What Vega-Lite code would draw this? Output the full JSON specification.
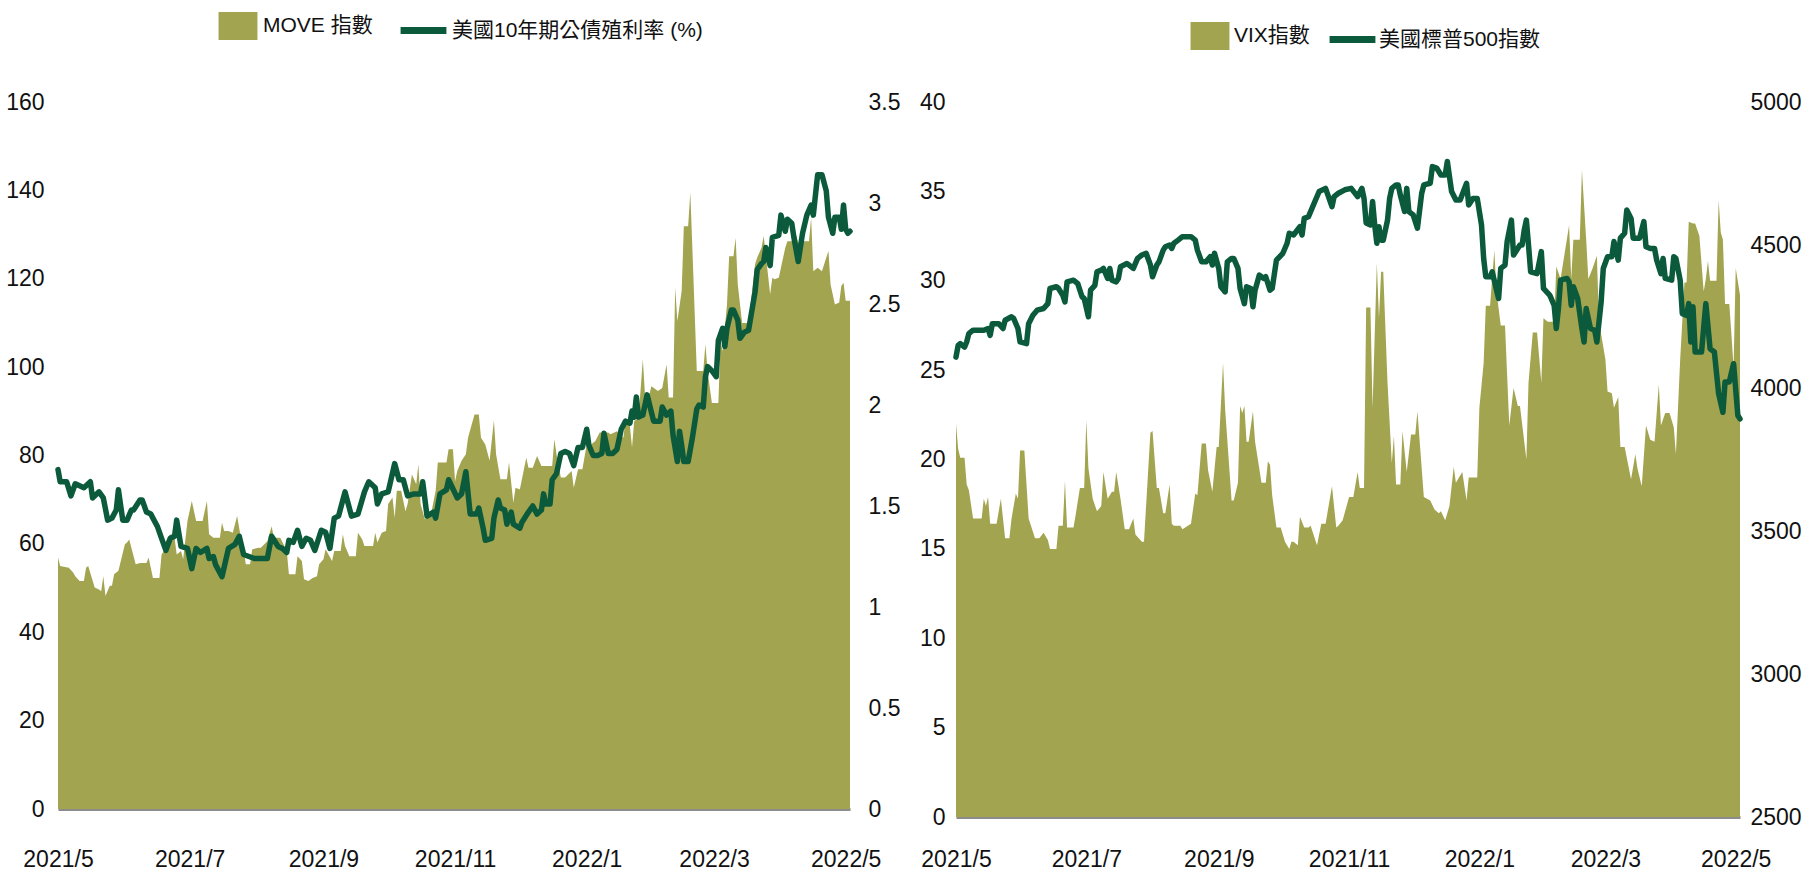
{
  "$schema": "https://vega.github.io/schema/vega-lite/v6.json",
  "background": "white",
  "padding": {"left": 5, "top": 4, "right": 0, "bottom": 0},
  "config": {
    "view": {"stroke": null},
    "font": "Liberation Sans, Noto Sans CJK TC, sans-serif",
    "axis": {"grid": false, "ticks": false, "domain": false, "title": null, "labelFont": "Liberation Sans, sans-serif", "labelFontSize": 23, "labelColor": "#111111"},
    "legend": {"title": null, "orient": "none", "padding": 0, "labelLimit": 0, "labelFont": "Liberation Sans, Noto Sans CJK TC, sans-serif", "labelFontSize": 21, "labelColor": "#111111"}
  },
  "spacing": 19,
  "resolve": {"scale": {"fill": "independent", "stroke": "independent"}, "legend": {"fill": "independent", "stroke": "independent"}},
  "datasets": {
    "move": [
      {"date": "2021/5/1", "move": 56.9}, {"date": "2021/5/2", "move": 55.0}, {"date": "2021/5/6", "move": 54.6}, {"date": "2021/5/8", "move": 53.5}, {"date": "2021/5/9", "move": 52.7}, {"date": "2021/5/11", "move": 51.6}, {"date": "2021/5/13", "move": 51.6}, {"date": "2021/5/14", "move": 54.6}, {"date": "2021/5/15", "move": 55.0}, {"date": "2021/5/18", "move": 50.1}, {"date": "2021/5/20", "move": 49.7}, {"date": "2021/5/21", "move": 49.3}, {"date": "2021/5/22", "move": 52.7}, {"date": "2021/5/23", "move": 48.2}, {"date": "2021/5/25", "move": 50.5}, {"date": "2021/5/26", "move": 50.5}, {"date": "2021/5/27", "move": 53.1}, {"date": "2021/5/29", "move": 53.9},
      {"date": "2021/6/1", "move": 59.9}, {"date": "2021/6/2", "move": 60.3}, {"date": "2021/6/3", "move": 61.0}, {"date": "2021/6/6", "move": 55.4}, {"date": "2021/6/8", "move": 55.7}, {"date": "2021/6/11", "move": 55.7}, {"date": "2021/6/12", "move": 56.9}, {"date": "2021/6/14", "move": 52.3}, {"date": "2021/6/17", "move": 52.3}, {"date": "2021/6/18", "move": 57.6}, {"date": "2021/6/19", "move": 58.4}, {"date": "2021/6/20", "move": 60.6}, {"date": "2021/6/22", "move": 62.2}, {"date": "2021/6/24", "move": 61.4}, {"date": "2021/6/25", "move": 57.6}, {"date": "2021/6/27", "move": 58.4}, {"date": "2021/6/28", "move": 56.5}, {"date": "2021/6/30", "move": 65.2},
      {"date": "2021/7/2", "move": 69.7}, {"date": "2021/7/4", "move": 65.2}, {"date": "2021/7/7", "move": 65.2}, {"date": "2021/7/9", "move": 69.7}, {"date": "2021/7/10", "move": 62.2}, {"date": "2021/7/12", "move": 61.4}, {"date": "2021/7/15", "move": 61.4}, {"date": "2021/7/16", "move": 64.8}, {"date": "2021/7/17", "move": 62.9}, {"date": "2021/7/19", "move": 62.9}, {"date": "2021/7/21", "move": 62.5}, {"date": "2021/7/23", "move": 66.3}, {"date": "2021/7/25", "move": 60.6}, {"date": "2021/7/26", "move": 59.1}, {"date": "2021/7/27", "move": 55.4}, {"date": "2021/7/29", "move": 55.4}, {"date": "2021/7/30", "move": 58.8},
      {"date": "2021/8/2", "move": 59.1}, {"date": "2021/8/3", "move": 59.1}, {"date": "2021/8/6", "move": 60.6}, {"date": "2021/8/8", "move": 64.0}, {"date": "2021/8/9", "move": 61.4}, {"date": "2021/8/12", "move": 61.4}, {"date": "2021/8/15", "move": 58.4}, {"date": "2021/8/16", "move": 53.1}, {"date": "2021/8/19", "move": 53.1}, {"date": "2021/8/20", "move": 57.2}, {"date": "2021/8/22", "move": 56.1}, {"date": "2021/8/23", "move": 52.0}, {"date": "2021/8/25", "move": 51.6}, {"date": "2021/8/27", "move": 52.3}, {"date": "2021/8/29", "move": 52.7}, {"date": "2021/8/30", "move": 55.4},
      {"date": "2021/9/1", "move": 56.5}, {"date": "2021/9/2", "move": 58.8}, {"date": "2021/9/5", "move": 56.1}, {"date": "2021/9/6", "move": 58.4}, {"date": "2021/9/9", "move": 58.4}, {"date": "2021/9/10", "move": 62.2}, {"date": "2021/9/11", "move": 59.5}, {"date": "2021/9/13", "move": 57.2}, {"date": "2021/9/16", "move": 57.2}, {"date": "2021/9/17", "move": 62.5}, {"date": "2021/9/19", "move": 61.0}, {"date": "2021/9/20", "move": 59.5}, {"date": "2021/9/24", "move": 59.5}, {"date": "2021/9/25", "move": 62.5}, {"date": "2021/9/26", "move": 60.3}, {"date": "2021/9/28", "move": 62.5}, {"date": "2021/9/30", "move": 62.9},
      {"date": "2021/10/1", "move": 69.0}, {"date": "2021/10/3", "move": 70.5}, {"date": "2021/10/4", "move": 65.9}, {"date": "2021/10/5", "move": 72.0}, {"date": "2021/10/7", "move": 72.0}, {"date": "2021/10/9", "move": 67.4}, {"date": "2021/10/10", "move": 69.0}, {"date": "2021/10/12", "move": 75.7}, {"date": "2021/10/14", "move": 73.5}, {"date": "2021/10/15", "move": 78.0}, {"date": "2021/10/16", "move": 69.0}, {"date": "2021/10/18", "move": 65.6}, {"date": "2021/10/21", "move": 67.1}, {"date": "2021/10/23", "move": 72.0}, {"date": "2021/10/24", "move": 78.4}, {"date": "2021/10/28", "move": 78.4}, {"date": "2021/10/29", "move": 81.4}, {"date": "2021/10/31", "move": 81.4},
      {"date": "2021/11/1", "move": 74.2}, {"date": "2021/11/2", "move": 76.5}, {"date": "2021/11/4", "move": 78.8}, {"date": "2021/11/6", "move": 80.3}, {"date": "2021/11/7", "move": 84.0}, {"date": "2021/11/10", "move": 89.3}, {"date": "2021/11/12", "move": 89.3}, {"date": "2021/11/13", "move": 84.0}, {"date": "2021/11/15", "move": 82.5}, {"date": "2021/11/17", "move": 78.8}, {"date": "2021/11/19", "move": 88.0}, {"date": "2021/11/20", "move": 80.3}, {"date": "2021/11/22", "move": 74.6}, {"date": "2021/11/25", "move": 74.6}, {"date": "2021/11/26", "move": 78.4}, {"date": "2021/11/28", "move": 69.3}, {"date": "2021/11/29", "move": 72.7},
      {"date": "2021/12/1", "move": 72.3}, {"date": "2021/12/4", "move": 79.5}, {"date": "2021/12/5", "move": 77.2}, {"date": "2021/12/7", "move": 77.2}, {"date": "2021/12/9", "move": 79.9}, {"date": "2021/12/11", "move": 77.6}, {"date": "2021/12/14", "move": 77.6}, {"date": "2021/12/16", "move": 77.6}, {"date": "2021/12/17", "move": 83.7}, {"date": "2021/12/18", "move": 80.3}, {"date": "2021/12/20", "move": 75.0}, {"date": "2021/12/22", "move": 75.0}, {"date": "2021/12/25", "move": 76.5}, {"date": "2021/12/26", "move": 72.7}, {"date": "2021/12/28", "move": 76.9}, {"date": "2021/12/30", "move": 76.9},
      {"date": "2022/1/1", "move": 82.5}, {"date": "2022/1/3", "move": 82.5}, {"date": "2022/1/5", "move": 83.3}, {"date": "2022/1/7", "move": 85.2}, {"date": "2022/1/11", "move": 85.2}, {"date": "2022/1/12", "move": 84.8}, {"date": "2022/1/15", "move": 85.5}, {"date": "2022/1/18", "move": 84.0}, {"date": "2022/1/19", "move": 88.5}, {"date": "2022/1/21", "move": 86.7}, {"date": "2022/1/22", "move": 81.8}, {"date": "2022/1/23", "move": 87.8}, {"date": "2022/1/25", "move": 88.5}, {"date": "2022/1/27", "move": 101.8}, {"date": "2022/1/28", "move": 93.8}, {"date": "2022/1/30", "move": 93.8}, {"date": "2022/1/31", "move": 95.7},
      {"date": "2022/2/3", "move": 94.6}, {"date": "2022/2/5", "move": 95.3}, {"date": "2022/2/7", "move": 100.6}, {"date": "2022/2/8", "move": 93.1}, {"date": "2022/2/10", "move": 93.1}, {"date": "2022/2/11", "move": 118.0}, {"date": "2022/2/12", "move": 110.4}, {"date": "2022/2/14", "move": 117.2}, {"date": "2022/2/15", "move": 131.9}, {"date": "2022/2/17", "move": 131.9}, {"date": "2022/2/18", "move": 139.5}, {"date": "2022/2/19", "move": 126.3}, {"date": "2022/2/21", "move": 99.1}, {"date": "2022/2/24", "move": 99.1}, {"date": "2022/2/25", "move": 105.2}, {"date": "2022/2/26", "move": 99.1}, {"date": "2022/2/28", "move": 91.9},
      {"date": "2022/3/3", "move": 91.9}, {"date": "2022/3/4", "move": 105.9}, {"date": "2022/3/5", "move": 103.6}, {"date": "2022/3/7", "move": 114.2}, {"date": "2022/3/8", "move": 125.1}, {"date": "2022/3/10", "move": 125.1}, {"date": "2022/3/11", "move": 129.3}, {"date": "2022/3/12", "move": 118.7}, {"date": "2022/3/14", "move": 110.0}, {"date": "2022/3/16", "move": 110.0}, {"date": "2022/3/17", "move": 109.8}, {"date": "2022/3/20", "move": 123.3}, {"date": "2022/3/21", "move": 124.8}, {"date": "2022/3/23", "move": 127.0}, {"date": "2022/3/24", "move": 129.7}, {"date": "2022/3/27", "move": 116.5}, {"date": "2022/3/28", "move": 120.2}, {"date": "2022/3/29", "move": 119.9}, {"date": "2022/3/31", "move": 120.2},
      {"date": "2022/4/1", "move": 122.5}, {"date": "2022/4/3", "move": 127.0}, {"date": "2022/4/4", "move": 128.5}, {"date": "2022/4/6", "move": 128.5}, {"date": "2022/4/7", "move": 131.5}, {"date": "2022/4/9", "move": 128.2}, {"date": "2022/4/12", "move": 128.5}, {"date": "2022/4/14", "move": 128.5}, {"date": "2022/4/15", "move": 133.8}, {"date": "2022/4/16", "move": 121.7}, {"date": "2022/4/18", "move": 122.5}, {"date": "2022/4/20", "move": 121.7}, {"date": "2022/4/23", "move": 126.3}, {"date": "2022/4/24", "move": 118.7}, {"date": "2022/4/26", "move": 114.2}, {"date": "2022/4/28", "move": 114.6}, {"date": "2022/4/29", "move": 118.4}, {"date": "2022/4/30", "move": 119.1},
      {"date": "2022/5/1", "move": 115.0}, {"date": "2022/5/3", "move": 115.0}
    ],
    "y10": [
      {"date": "2021/5/1", "yield": 1.68}, {"date": "2021/5/2", "yield": 1.62}, {"date": "2021/5/5", "yield": 1.62}, {"date": "2021/5/7", "yield": 1.55}, {"date": "2021/5/9", "yield": 1.61}, {"date": "2021/5/13", "yield": 1.59}, {"date": "2021/5/16", "yield": 1.62}, {"date": "2021/5/17", "yield": 1.54}, {"date": "2021/5/20", "yield": 1.57}, {"date": "2021/5/22", "yield": 1.54}, {"date": "2021/5/24", "yield": 1.43}, {"date": "2021/5/26", "yield": 1.44}, {"date": "2021/5/28", "yield": 1.48}, {"date": "2021/5/29", "yield": 1.58}, {"date": "2021/5/31", "yield": 1.43},
      {"date": "2021/6/2", "yield": 1.43}, {"date": "2021/6/4", "yield": 1.48}, {"date": "2021/6/5", "yield": 1.48}, {"date": "2021/6/8", "yield": 1.53}, {"date": "2021/6/9", "yield": 1.53}, {"date": "2021/6/11", "yield": 1.47}, {"date": "2021/6/13", "yield": 1.46}, {"date": "2021/6/16", "yield": 1.40}, {"date": "2021/6/18", "yield": 1.34}, {"date": "2021/6/20", "yield": 1.28}, {"date": "2021/6/22", "yield": 1.34}, {"date": "2021/6/24", "yield": 1.35}, {"date": "2021/6/25", "yield": 1.43}, {"date": "2021/6/27", "yield": 1.30}, {"date": "2021/6/30", "yield": 1.29},
      {"date": "2021/7/2", "yield": 1.19}, {"date": "2021/7/4", "yield": 1.29}, {"date": "2021/7/6", "yield": 1.27}, {"date": "2021/7/9", "yield": 1.29}, {"date": "2021/7/10", "yield": 1.24}, {"date": "2021/7/12", "yield": 1.25}, {"date": "2021/7/13", "yield": 1.21}, {"date": "2021/7/16", "yield": 1.15}, {"date": "2021/7/19", "yield": 1.29}, {"date": "2021/7/22", "yield": 1.31}, {"date": "2021/7/24", "yield": 1.35}, {"date": "2021/7/26", "yield": 1.26}, {"date": "2021/7/31", "yield": 1.24},
      {"date": "2021/8/2", "yield": 1.24}, {"date": "2021/8/6", "yield": 1.24}, {"date": "2021/8/8", "yield": 1.35}, {"date": "2021/8/11", "yield": 1.30}, {"date": "2021/8/13", "yield": 1.29}, {"date": "2021/8/15", "yield": 1.27}, {"date": "2021/8/16", "yield": 1.33}, {"date": "2021/8/18", "yield": 1.32}, {"date": "2021/8/20", "yield": 1.38}, {"date": "2021/8/22", "yield": 1.30}, {"date": "2021/8/24", "yield": 1.34}, {"date": "2021/8/26", "yield": 1.33}, {"date": "2021/8/28", "yield": 1.28}, {"date": "2021/8/31", "yield": 1.38},
      {"date": "2021/9/2", "yield": 1.37}, {"date": "2021/9/4", "yield": 1.29}, {"date": "2021/9/6", "yield": 1.44}, {"date": "2021/9/8", "yield": 1.45}, {"date": "2021/9/11", "yield": 1.57}, {"date": "2021/9/14", "yield": 1.45}, {"date": "2021/9/17", "yield": 1.46}, {"date": "2021/9/20", "yield": 1.57}, {"date": "2021/9/22", "yield": 1.62}, {"date": "2021/9/25", "yield": 1.59}, {"date": "2021/9/26", "yield": 1.51}, {"date": "2021/9/28", "yield": 1.56},
      {"date": "2021/10/1", "yield": 1.57}, {"date": "2021/10/4", "yield": 1.71}, {"date": "2021/10/6", "yield": 1.63}, {"date": "2021/10/8", "yield": 1.63}, {"date": "2021/10/10", "yield": 1.55}, {"date": "2021/10/13", "yield": 1.56}, {"date": "2021/10/16", "yield": 1.56}, {"date": "2021/10/17", "yield": 1.62}, {"date": "2021/10/19", "yield": 1.45}, {"date": "2021/10/22", "yield": 1.47}, {"date": "2021/10/23", "yield": 1.44}, {"date": "2021/10/25", "yield": 1.56}, {"date": "2021/10/28", "yield": 1.58}, {"date": "2021/10/29", "yield": 1.63},
      {"date": "2021/11/2", "yield": 1.54}, {"date": "2021/11/4", "yield": 1.56}, {"date": "2021/11/6", "yield": 1.67}, {"date": "2021/11/8", "yield": 1.46}, {"date": "2021/11/11", "yield": 1.46}, {"date": "2021/11/12", "yield": 1.49}, {"date": "2021/11/14", "yield": 1.39}, {"date": "2021/11/15", "yield": 1.33}, {"date": "2021/11/18", "yield": 1.34}, {"date": "2021/11/19", "yield": 1.44}, {"date": "2021/11/21", "yield": 1.53}, {"date": "2021/11/22", "yield": 1.49}, {"date": "2021/11/24", "yield": 1.48}, {"date": "2021/11/25", "yield": 1.41}, {"date": "2021/11/27", "yield": 1.47}, {"date": "2021/11/28", "yield": 1.41},
      {"date": "2021/12/1", "yield": 1.39}, {"date": "2021/12/2", "yield": 1.42}, {"date": "2021/12/5", "yield": 1.47}, {"date": "2021/12/7", "yield": 1.50}, {"date": "2021/12/9", "yield": 1.46}, {"date": "2021/12/11", "yield": 1.48}, {"date": "2021/12/12", "yield": 1.56}, {"date": "2021/12/13", "yield": 1.51}, {"date": "2021/12/15", "yield": 1.51}, {"date": "2021/12/16", "yield": 1.63}, {"date": "2021/12/18", "yield": 1.66}, {"date": "2021/12/20", "yield": 1.76}, {"date": "2021/12/22", "yield": 1.77}, {"date": "2021/12/24", "yield": 1.76}, {"date": "2021/12/26", "yield": 1.70}, {"date": "2021/12/28", "yield": 1.79}, {"date": "2021/12/30", "yield": 1.79},
      {"date": "2022/1/1", "yield": 1.88}, {"date": "2022/1/2", "yield": 1.80}, {"date": "2022/1/4", "yield": 1.75}, {"date": "2022/1/6", "yield": 1.75}, {"date": "2022/1/8", "yield": 1.76}, {"date": "2022/1/9", "yield": 1.86}, {"date": "2022/1/11", "yield": 1.76}, {"date": "2022/1/13", "yield": 1.76}, {"date": "2022/1/15", "yield": 1.78}, {"date": "2022/1/17", "yield": 1.88}, {"date": "2022/1/19", "yield": 1.92}, {"date": "2022/1/21", "yield": 1.91}, {"date": "2022/1/22", "yield": 1.97}, {"date": "2022/1/23", "yield": 1.94}, {"date": "2022/1/24", "yield": 2.04}, {"date": "2022/1/25", "yield": 1.94}, {"date": "2022/1/27", "yield": 1.95}, {"date": "2022/1/29", "yield": 2.05},
      {"date": "2022/2/1", "yield": 1.92}, {"date": "2022/2/4", "yield": 1.92}, {"date": "2022/2/5", "yield": 1.99}, {"date": "2022/2/7", "yield": 1.95}, {"date": "2022/2/9", "yield": 1.97}, {"date": "2022/2/10", "yield": 1.85}, {"date": "2022/2/12", "yield": 1.72}, {"date": "2022/2/13", "yield": 1.87}, {"date": "2022/2/14", "yield": 1.80}, {"date": "2022/2/15", "yield": 1.72}, {"date": "2022/2/17", "yield": 1.72}, {"date": "2022/2/19", "yield": 1.84}, {"date": "2022/2/21", "yield": 1.98}, {"date": "2022/2/22", "yield": 2.00}, {"date": "2022/2/24", "yield": 1.99}, {"date": "2022/2/25", "yield": 2.14}, {"date": "2022/2/26", "yield": 2.19}, {"date": "2022/2/28", "yield": 2.17},
      {"date": "2022/3/2", "yield": 2.14}, {"date": "2022/3/3", "yield": 2.32}, {"date": "2022/3/5", "yield": 2.38}, {"date": "2022/3/6", "yield": 2.29}, {"date": "2022/3/7", "yield": 2.38}, {"date": "2022/3/9", "yield": 2.47}, {"date": "2022/3/10", "yield": 2.47}, {"date": "2022/3/12", "yield": 2.42}, {"date": "2022/3/13", "yield": 2.33}, {"date": "2022/3/15", "yield": 2.36}, {"date": "2022/3/17", "yield": 2.37}, {"date": "2022/3/20", "yield": 2.56}, {"date": "2022/3/21", "yield": 2.67}, {"date": "2022/3/23", "yield": 2.70}, {"date": "2022/3/24", "yield": 2.71}, {"date": "2022/3/25", "yield": 2.78}, {"date": "2022/3/27", "yield": 2.69}, {"date": "2022/3/28", "yield": 2.83}, {"date": "2022/3/31", "yield": 2.84},
      {"date": "2022/4/1", "yield": 2.94}, {"date": "2022/4/3", "yield": 2.86}, {"date": "2022/4/4", "yield": 2.92}, {"date": "2022/4/6", "yield": 2.90}, {"date": "2022/4/7", "yield": 2.83}, {"date": "2022/4/9", "yield": 2.71}, {"date": "2022/4/11", "yield": 2.85}, {"date": "2022/4/13", "yield": 2.94}, {"date": "2022/4/15", "yield": 2.99}, {"date": "2022/4/16", "yield": 2.94}, {"date": "2022/4/18", "yield": 3.14}, {"date": "2022/4/20", "yield": 3.14}, {"date": "2022/4/22", "yield": 3.06}, {"date": "2022/4/23", "yield": 2.93}, {"date": "2022/4/25", "yield": 2.85}, {"date": "2022/4/26", "yield": 2.93}, {"date": "2022/4/28", "yield": 2.93}, {"date": "2022/4/29", "yield": 2.87}, {"date": "2022/4/30", "yield": 2.99},
      {"date": "2022/5/1", "yield": 2.87}, {"date": "2022/5/2", "yield": 2.85}, {"date": "2022/5/3", "yield": 2.86}
    ],
    "vix": [
      {"date": "2021/5/1", "vix": 22.0}, {"date": "2021/5/2", "vix": 20.6}, {"date": "2021/5/3", "vix": 20.1}, {"date": "2021/5/5", "vix": 20.1}, {"date": "2021/5/6", "vix": 18.6}, {"date": "2021/5/7", "vix": 18.3}, {"date": "2021/5/9", "vix": 16.7}, {"date": "2021/5/13", "vix": 16.7}, {"date": "2021/5/14", "vix": 17.8}, {"date": "2021/5/15", "vix": 17.4}, {"date": "2021/5/16", "vix": 17.9}, {"date": "2021/5/17", "vix": 16.4}, {"date": "2021/5/20", "vix": 16.4}, {"date": "2021/5/22", "vix": 17.8}, {"date": "2021/5/24", "vix": 15.6}, {"date": "2021/5/26", "vix": 15.6}, {"date": "2021/5/27", "vix": 16.7}, {"date": "2021/5/29", "vix": 18.1}, {"date": "2021/5/30", "vix": 17.8}, {"date": "2021/5/31", "vix": 20.5},
      {"date": "2021/6/2", "vix": 20.5}, {"date": "2021/6/4", "vix": 16.7}, {"date": "2021/6/7", "vix": 15.6}, {"date": "2021/6/9", "vix": 15.6}, {"date": "2021/6/11", "vix": 15.9}, {"date": "2021/6/13", "vix": 15.5}, {"date": "2021/6/14", "vix": 15.0}, {"date": "2021/6/17", "vix": 15.0}, {"date": "2021/6/18", "vix": 16.3}, {"date": "2021/6/20", "vix": 16.3}, {"date": "2021/6/21", "vix": 18.8}, {"date": "2021/6/22", "vix": 16.2}, {"date": "2021/6/25", "vix": 16.2}, {"date": "2021/6/26", "vix": 16.9}, {"date": "2021/6/28", "vix": 18.4}, {"date": "2021/6/30", "vix": 18.4},
      {"date": "2021/7/1", "vix": 22.2}, {"date": "2021/7/2", "vix": 19.5}, {"date": "2021/7/4", "vix": 17.8}, {"date": "2021/7/6", "vix": 17.1}, {"date": "2021/7/8", "vix": 17.4}, {"date": "2021/7/9", "vix": 19.3}, {"date": "2021/7/11", "vix": 17.8}, {"date": "2021/7/13", "vix": 18.2}, {"date": "2021/7/14", "vix": 18.2}, {"date": "2021/7/15", "vix": 19.3}, {"date": "2021/7/17", "vix": 17.8}, {"date": "2021/7/19", "vix": 16.1}, {"date": "2021/7/21", "vix": 16.1}, {"date": "2021/7/23", "vix": 16.7}, {"date": "2021/7/24", "vix": 15.8}, {"date": "2021/7/27", "vix": 15.4}, {"date": "2021/7/28", "vix": 15.4}, {"date": "2021/7/31", "vix": 21.5},
      {"date": "2021/8/1", "vix": 21.6}, {"date": "2021/8/3", "vix": 18.4}, {"date": "2021/8/4", "vix": 18.4}, {"date": "2021/8/6", "vix": 17.0}, {"date": "2021/8/7", "vix": 17.0}, {"date": "2021/8/9", "vix": 18.6}, {"date": "2021/8/10", "vix": 16.4}, {"date": "2021/8/11", "vix": 16.3}, {"date": "2021/8/14", "vix": 16.3}, {"date": "2021/8/15", "vix": 16.1}, {"date": "2021/8/19", "vix": 16.4}, {"date": "2021/8/21", "vix": 18.1}, {"date": "2021/8/22", "vix": 18.0}, {"date": "2021/8/24", "vix": 20.9}, {"date": "2021/8/26", "vix": 20.9}, {"date": "2021/8/27", "vix": 19.4}, {"date": "2021/8/29", "vix": 18.2}, {"date": "2021/8/31", "vix": 20.7},
      {"date": "2021/9/1", "vix": 20.7}, {"date": "2021/9/3", "vix": 25.4}, {"date": "2021/9/4", "vix": 22.8}, {"date": "2021/9/7", "vix": 17.7}, {"date": "2021/9/8", "vix": 17.7}, {"date": "2021/9/10", "vix": 18.7}, {"date": "2021/9/11", "vix": 23.0}, {"date": "2021/9/12", "vix": 22.6}, {"date": "2021/9/13", "vix": 23.0}, {"date": "2021/9/14", "vix": 21.0}, {"date": "2021/9/15", "vix": 21.0}, {"date": "2021/9/17", "vix": 22.7}, {"date": "2021/9/18", "vix": 21.0}, {"date": "2021/9/21", "vix": 18.7}, {"date": "2021/9/23", "vix": 18.7}, {"date": "2021/9/24", "vix": 19.9}, {"date": "2021/9/25", "vix": 19.7}, {"date": "2021/9/26", "vix": 18.0}, {"date": "2021/9/28", "vix": 16.2}, {"date": "2021/9/30", "vix": 16.2},
      {"date": "2021/10/2", "vix": 15.4}, {"date": "2021/10/4", "vix": 15.0}, {"date": "2021/10/5", "vix": 15.4}, {"date": "2021/10/6", "vix": 15.4}, {"date": "2021/10/8", "vix": 15.2}, {"date": "2021/10/9", "vix": 16.8}, {"date": "2021/10/11", "vix": 16.2}, {"date": "2021/10/13", "vix": 16.2}, {"date": "2021/10/14", "vix": 16.3}, {"date": "2021/10/17", "vix": 15.2}, {"date": "2021/10/19", "vix": 16.4}, {"date": "2021/10/21", "vix": 16.4}, {"date": "2021/10/24", "vix": 18.5}, {"date": "2021/10/26", "vix": 16.2}, {"date": "2021/10/27", "vix": 16.3}, {"date": "2021/10/29", "vix": 16.6},
      {"date": "2021/11/1", "vix": 17.9}, {"date": "2021/11/3", "vix": 17.9}, {"date": "2021/11/5", "vix": 19.3}, {"date": "2021/11/6", "vix": 18.4}, {"date": "2021/11/8", "vix": 18.4}, {"date": "2021/11/9", "vix": 28.5}, {"date": "2021/11/11", "vix": 28.5}, {"date": "2021/11/12", "vix": 22.9}, {"date": "2021/11/14", "vix": 31.0}, {"date": "2021/11/15", "vix": 27.9}, {"date": "2021/11/16", "vix": 30.5}, {"date": "2021/11/17", "vix": 30.5}, {"date": "2021/11/19", "vix": 24.3}, {"date": "2021/11/21", "vix": 19.8}, {"date": "2021/11/22", "vix": 21.3}, {"date": "2021/11/23", "vix": 18.6}, {"date": "2021/11/25", "vix": 18.6}, {"date": "2021/11/26", "vix": 21.6}, {"date": "2021/11/28", "vix": 19.3}, {"date": "2021/11/30", "vix": 21.4},
      {"date": "2021/12/2", "vix": 21.4}, {"date": "2021/12/3", "vix": 22.7}, {"date": "2021/12/6", "vix": 17.9}, {"date": "2021/12/9", "vix": 17.7}, {"date": "2021/12/11", "vix": 17.2}, {"date": "2021/12/13", "vix": 17.0}, {"date": "2021/12/14", "vix": 17.1}, {"date": "2021/12/16", "vix": 16.6}, {"date": "2021/12/18", "vix": 17.4}, {"date": "2021/12/20", "vix": 19.6}, {"date": "2021/12/21", "vix": 18.7}, {"date": "2021/12/23", "vix": 19.1}, {"date": "2021/12/24", "vix": 19.3}, {"date": "2021/12/26", "vix": 17.7}, {"date": "2021/12/27", "vix": 19.0}, {"date": "2021/12/29", "vix": 19.0}, {"date": "2021/12/31", "vix": 19.0},
      {"date": "2022/1/1", "vix": 22.9}, {"date": "2022/1/3", "vix": 25.4}, {"date": "2022/1/4", "vix": 28.6}, {"date": "2022/1/6", "vix": 28.6}, {"date": "2022/1/8", "vix": 31.7}, {"date": "2022/1/9", "vix": 29.4}, {"date": "2022/1/11", "vix": 27.5}, {"date": "2022/1/13", "vix": 27.5}, {"date": "2022/1/15", "vix": 21.9}, {"date": "2022/1/17", "vix": 24.0}, {"date": "2022/1/19", "vix": 23.0}, {"date": "2022/1/20", "vix": 23.0}, {"date": "2022/1/23", "vix": 20.0}, {"date": "2022/1/24", "vix": 24.3}, {"date": "2022/1/26", "vix": 27.1}, {"date": "2022/1/28", "vix": 27.1}, {"date": "2022/1/30", "vix": 24.3}, {"date": "2022/1/31", "vix": 27.9},
      {"date": "2022/2/2", "vix": 27.7}, {"date": "2022/2/5", "vix": 27.7}, {"date": "2022/2/6", "vix": 30.8}, {"date": "2022/2/8", "vix": 30.1}, {"date": "2022/2/12", "vix": 33.1}, {"date": "2022/2/13", "vix": 30.1}, {"date": "2022/2/14", "vix": 32.3}, {"date": "2022/2/17", "vix": 32.3}, {"date": "2022/2/18", "vix": 36.2}, {"date": "2022/2/20", "vix": 32.3}, {"date": "2022/2/21", "vix": 30.1}, {"date": "2022/2/23", "vix": 30.7}, {"date": "2022/2/25", "vix": 31.4}, {"date": "2022/2/26", "vix": 27.7},
      {"date": "2022/3/1", "vix": 25.6}, {"date": "2022/3/2", "vix": 23.8}, {"date": "2022/3/4", "vix": 23.7}, {"date": "2022/3/5", "vix": 22.9}, {"date": "2022/3/7", "vix": 23.5}, {"date": "2022/3/8", "vix": 20.7}, {"date": "2022/3/10", "vix": 20.7}, {"date": "2022/3/12", "vix": 19.5}, {"date": "2022/3/13", "vix": 18.9}, {"date": "2022/3/15", "vix": 20.3}, {"date": "2022/3/16", "vix": 19.5}, {"date": "2022/3/18", "vix": 18.5}, {"date": "2022/3/20", "vix": 21.9}, {"date": "2022/3/22", "vix": 21.1}, {"date": "2022/3/24", "vix": 21.0}, {"date": "2022/3/26", "vix": 24.2}, {"date": "2022/3/27", "vix": 21.9}, {"date": "2022/3/29", "vix": 22.6}, {"date": "2022/3/31", "vix": 22.6},
      {"date": "2022/4/2", "vix": 21.8}, {"date": "2022/4/3", "vix": 20.3}, {"date": "2022/4/5", "vix": 25.6}, {"date": "2022/4/7", "vix": 29.9}, {"date": "2022/4/8", "vix": 29.9}, {"date": "2022/4/9", "vix": 33.3}, {"date": "2022/4/11", "vix": 33.2}, {"date": "2022/4/12", "vix": 33.2}, {"date": "2022/4/14", "vix": 32.5}, {"date": "2022/4/16", "vix": 29.4}, {"date": "2022/4/17", "vix": 30.1}, {"date": "2022/4/18", "vix": 31.1}, {"date": "2022/4/19", "vix": 30.0}, {"date": "2022/4/22", "vix": 30.0}, {"date": "2022/4/23", "vix": 34.5}, {"date": "2022/4/24", "vix": 32.7}, {"date": "2022/4/25", "vix": 32.3}, {"date": "2022/4/26", "vix": 28.7}, {"date": "2022/4/28", "vix": 28.7}, {"date": "2022/4/30", "vix": 25.2},
      {"date": "2022/5/1", "vix": 30.7}, {"date": "2022/5/3", "vix": 29.2}
    ],
    "spx": [
      {"date": "2021/5/1", "spx": 4108}, {"date": "2021/5/2", "spx": 4149}, {"date": "2021/5/3", "spx": 4155}, {"date": "2021/5/5", "spx": 4143}, {"date": "2021/5/6", "spx": 4161}, {"date": "2021/5/7", "spx": 4190}, {"date": "2021/5/9", "spx": 4202}, {"date": "2021/5/14", "spx": 4202}, {"date": "2021/5/16", "spx": 4208}, {"date": "2021/5/17", "spx": 4184}, {"date": "2021/5/18", "spx": 4225}, {"date": "2021/5/21", "spx": 4225}, {"date": "2021/5/23", "spx": 4208}, {"date": "2021/5/24", "spx": 4237}, {"date": "2021/5/27", "spx": 4249}, {"date": "2021/5/28", "spx": 4243}, {"date": "2021/5/30", "spx": 4208}, {"date": "2021/5/31", "spx": 4161},
      {"date": "2021/6/3", "spx": 4155}, {"date": "2021/6/4", "spx": 4225}, {"date": "2021/6/6", "spx": 4254}, {"date": "2021/6/8", "spx": 4272}, {"date": "2021/6/11", "spx": 4278}, {"date": "2021/6/13", "spx": 4295}, {"date": "2021/6/14", "spx": 4348}, {"date": "2021/6/17", "spx": 4354}, {"date": "2021/6/18", "spx": 4348}, {"date": "2021/6/20", "spx": 4324}, {"date": "2021/6/21", "spx": 4301}, {"date": "2021/6/22", "spx": 4371}, {"date": "2021/6/25", "spx": 4377}, {"date": "2021/6/27", "spx": 4365}, {"date": "2021/6/29", "spx": 4319}, {"date": "2021/6/30", "spx": 4313},
      {"date": "2021/7/2", "spx": 4249}, {"date": "2021/7/3", "spx": 4342}, {"date": "2021/7/5", "spx": 4359}, {"date": "2021/7/6", "spx": 4406}, {"date": "2021/7/8", "spx": 4412}, {"date": "2021/7/9", "spx": 4418}, {"date": "2021/7/11", "spx": 4383}, {"date": "2021/7/12", "spx": 4418}, {"date": "2021/7/13", "spx": 4377}, {"date": "2021/7/15", "spx": 4371}, {"date": "2021/7/16", "spx": 4383}, {"date": "2021/7/17", "spx": 4424}, {"date": "2021/7/20", "spx": 4435}, {"date": "2021/7/21", "spx": 4430}, {"date": "2021/7/23", "spx": 4418}, {"date": "2021/7/25", "spx": 4453}, {"date": "2021/7/27", "spx": 4465}, {"date": "2021/7/29", "spx": 4471}, {"date": "2021/7/31", "spx": 4430},
      {"date": "2021/8/1", "spx": 4389}, {"date": "2021/8/3", "spx": 4430}, {"date": "2021/8/4", "spx": 4441}, {"date": "2021/8/6", "spx": 4482}, {"date": "2021/8/7", "spx": 4494}, {"date": "2021/8/9", "spx": 4500}, {"date": "2021/8/10", "spx": 4488}, {"date": "2021/8/11", "spx": 4506}, {"date": "2021/8/13", "spx": 4517}, {"date": "2021/8/15", "spx": 4529}, {"date": "2021/8/19", "spx": 4529}, {"date": "2021/8/21", "spx": 4517}, {"date": "2021/8/22", "spx": 4482}, {"date": "2021/8/24", "spx": 4441}, {"date": "2021/8/26", "spx": 4441}, {"date": "2021/8/28", "spx": 4459}, {"date": "2021/8/29", "spx": 4430}, {"date": "2021/8/30", "spx": 4471},
      {"date": "2021/9/1", "spx": 4418}, {"date": "2021/9/2", "spx": 4354}, {"date": "2021/9/4", "spx": 4336}, {"date": "2021/9/5", "spx": 4441}, {"date": "2021/9/7", "spx": 4453}, {"date": "2021/9/8", "spx": 4453}, {"date": "2021/9/10", "spx": 4418}, {"date": "2021/9/11", "spx": 4348}, {"date": "2021/9/13", "spx": 4295}, {"date": "2021/9/14", "spx": 4354}, {"date": "2021/9/16", "spx": 4348}, {"date": "2021/9/17", "spx": 4284}, {"date": "2021/9/18", "spx": 4342}, {"date": "2021/9/20", "spx": 4395}, {"date": "2021/9/22", "spx": 4383}, {"date": "2021/9/23", "spx": 4389}, {"date": "2021/9/25", "spx": 4342}, {"date": "2021/9/26", "spx": 4348}, {"date": "2021/9/28", "spx": 4447},
      {"date": "2021/10/1", "spx": 4471}, {"date": "2021/10/3", "spx": 4506}, {"date": "2021/10/4", "spx": 4541}, {"date": "2021/10/6", "spx": 4535}, {"date": "2021/10/9", "spx": 4564}, {"date": "2021/10/10", "spx": 4535}, {"date": "2021/10/11", "spx": 4593}, {"date": "2021/10/13", "spx": 4599}, {"date": "2021/10/16", "spx": 4652}, {"date": "2021/10/18", "spx": 4687}, {"date": "2021/10/21", "spx": 4698}, {"date": "2021/10/24", "spx": 4634}, {"date": "2021/10/25", "spx": 4669}, {"date": "2021/10/27", "spx": 4681}, {"date": "2021/10/30", "spx": 4693},
      {"date": "2021/11/2", "spx": 4698}, {"date": "2021/11/5", "spx": 4669}, {"date": "2021/11/7", "spx": 4698}, {"date": "2021/11/8", "spx": 4663}, {"date": "2021/11/9", "spx": 4577}, {"date": "2021/11/11", "spx": 4570}, {"date": "2021/11/12", "spx": 4652}, {"date": "2021/11/13", "spx": 4570}, {"date": "2021/11/14", "spx": 4506}, {"date": "2021/11/15", "spx": 4564}, {"date": "2021/11/16", "spx": 4517}, {"date": "2021/11/17", "spx": 4517}, {"date": "2021/11/19", "spx": 4587}, {"date": "2021/11/20", "spx": 4663}, {"date": "2021/11/21", "spx": 4698}, {"date": "2021/11/23", "spx": 4710}, {"date": "2021/11/24", "spx": 4710}, {"date": "2021/11/25", "spx": 4675}, {"date": "2021/11/27", "spx": 4617}, {"date": "2021/11/28", "spx": 4698}, {"date": "2021/11/29", "spx": 4617},
      {"date": "2021/12/1", "spx": 4605}, {"date": "2021/12/3", "spx": 4559}, {"date": "2021/12/5", "spx": 4681}, {"date": "2021/12/6", "spx": 4710}, {"date": "2021/12/9", "spx": 4716}, {"date": "2021/12/10", "spx": 4774}, {"date": "2021/12/12", "spx": 4769}, {"date": "2021/12/14", "spx": 4745}, {"date": "2021/12/16", "spx": 4745}, {"date": "2021/12/17", "spx": 4792}, {"date": "2021/12/19", "spx": 4687}, {"date": "2021/12/21", "spx": 4657}, {"date": "2021/12/23", "spx": 4657}, {"date": "2021/12/26", "spx": 4716}, {"date": "2021/12/27", "spx": 4640}, {"date": "2021/12/29", "spx": 4663}, {"date": "2021/12/31", "spx": 4663},
      {"date": "2022/1/2", "spx": 4570}, {"date": "2022/1/3", "spx": 4453}, {"date": "2022/1/4", "spx": 4389}, {"date": "2022/1/6", "spx": 4389}, {"date": "2022/1/7", "spx": 4406}, {"date": "2022/1/10", "spx": 4313}, {"date": "2022/1/11", "spx": 4418}, {"date": "2022/1/13", "spx": 4430}, {"date": "2022/1/14", "spx": 4512}, {"date": "2022/1/16", "spx": 4587}, {"date": "2022/1/17", "spx": 4465}, {"date": "2022/1/20", "spx": 4500}, {"date": "2022/1/21", "spx": 4500}, {"date": "2022/1/22", "spx": 4552}, {"date": "2022/1/23", "spx": 4587}, {"date": "2022/1/24", "spx": 4500}, {"date": "2022/1/25", "spx": 4406}, {"date": "2022/1/28", "spx": 4400}, {"date": "2022/1/30", "spx": 4477}, {"date": "2022/1/31", "spx": 4348},
      {"date": "2022/2/3", "spx": 4324}, {"date": "2022/2/5", "spx": 4289}, {"date": "2022/2/6", "spx": 4208}, {"date": "2022/2/7", "spx": 4278}, {"date": "2022/2/8", "spx": 4377}, {"date": "2022/2/11", "spx": 4383}, {"date": "2022/2/12", "spx": 4371}, {"date": "2022/2/13", "spx": 4289}, {"date": "2022/2/14", "spx": 4354}, {"date": "2022/2/16", "spx": 4313}, {"date": "2022/2/18", "spx": 4208}, {"date": "2022/2/19", "spx": 4161}, {"date": "2022/2/20", "spx": 4278}, {"date": "2022/2/22", "spx": 4208}, {"date": "2022/2/24", "spx": 4202}, {"date": "2022/2/25", "spx": 4161}, {"date": "2022/2/27", "spx": 4301}, {"date": "2022/2/28", "spx": 4418},
      {"date": "2022/3/2", "spx": 4459}, {"date": "2022/3/4", "spx": 4459}, {"date": "2022/3/5", "spx": 4512}, {"date": "2022/3/7", "spx": 4447}, {"date": "2022/3/8", "spx": 4524}, {"date": "2022/3/10", "spx": 4541}, {"date": "2022/3/11", "spx": 4622}, {"date": "2022/3/13", "spx": 4593}, {"date": "2022/3/14", "spx": 4524}, {"date": "2022/3/17", "spx": 4524}, {"date": "2022/3/19", "spx": 4582}, {"date": "2022/3/20", "spx": 4494}, {"date": "2022/3/22", "spx": 4488}, {"date": "2022/3/24", "spx": 4488}, {"date": "2022/3/25", "spx": 4447}, {"date": "2022/3/27", "spx": 4400}, {"date": "2022/3/28", "spx": 4453}, {"date": "2022/3/29", "spx": 4383},
      {"date": "2022/4/1", "spx": 4377}, {"date": "2022/4/2", "spx": 4459}, {"date": "2022/4/3", "spx": 4453}, {"date": "2022/4/5", "spx": 4377}, {"date": "2022/4/6", "spx": 4260}, {"date": "2022/4/8", "spx": 4254}, {"date": "2022/4/9", "spx": 4295}, {"date": "2022/4/10", "spx": 4161}, {"date": "2022/4/11", "spx": 4284}, {"date": "2022/4/12", "spx": 4126}, {"date": "2022/4/15", "spx": 4126}, {"date": "2022/4/17", "spx": 4295}, {"date": "2022/4/19", "spx": 4137}, {"date": "2022/4/21", "spx": 4126}, {"date": "2022/4/23", "spx": 3980}, {"date": "2022/4/25", "spx": 3915}, {"date": "2022/4/26", "spx": 4021}, {"date": "2022/4/28", "spx": 4021}, {"date": "2022/4/30", "spx": 4085},
      {"date": "2022/5/2", "spx": 3904}, {"date": "2022/5/3", "spx": 3892}
    ]
  },
  "hconcat": [
    {
      "width": 792,
      "height": 707,
      "resolve": {"scale": {"y": "independent"}},
      "layer": [
        {
          "data": {"name": "move"},
          "mark": {"type": "area", "interpolate": "linear"},
          "encoding": {
            "x": {"field": "date", "type": "temporal", "scale": {"domain": [{"year": 2021, "month": 5, "date": 1}, {"year": 2022, "month": 5, "date": 3}]}, "axis": {"values": [{"year": 2021, "month": 5, "date": 1}, {"year": 2021, "month": 7, "date": 1}, {"year": 2021, "month": 9, "date": 1}, {"year": 2021, "month": 11, "date": 1}, {"year": 2022, "month": 1, "date": 1}, {"year": 2022, "month": 3, "date": 1}, {"year": 2022, "month": 5, "date": 1}], "format": "%Y/%-m", "domain": true, "domainColor": "#8C8C8C", "domainWidth": 3, "labelPadding": 39, "labelFlush": false, "labelOverlap": false}},
            "y": {"field": "move", "type": "quantitative", "scale": {"domain": [0, 160]}, "axis": {"orient": "left", "values": [0, 20, 40, 60, 80, 100, 120, 140, 160], "labelPadding": 14}},
            "fill": {"datum": "MOVE 指數", "type": "nominal", "scale": {"range": ["#A3A44F"]}, "legend": {"legendX": 166, "legendY": -90, "symbolType": "M-1.39,-1H1.39V1H-1.39Z", "symbolSize": 784, "symbolStrokeWidth": 0, "labelOffset": 11}}
          }
        },
        {
          "data": {"name": "y10"},
          "mark": {"type": "line", "strokeWidth": 5.5, "strokeJoin": "round", "strokeCap": "round"},
          "encoding": {
            "x": {"field": "date", "type": "temporal"},
            "y": {"field": "yield", "type": "quantitative", "scale": {"domain": [0, 3.5]}, "axis": {"orient": "right", "values": [0, 0.5, 1, 1.5, 2, 2.5, 3, 3.5], "format": "~g", "labelPadding": 18}},
            "stroke": {"datum": "美國10年期公債殖利率 (%)", "type": "nominal", "scale": {"range": ["#0B5A3C"]}, "legend": {"legendX": 339, "legendY": -98, "symbolType": "stroke", "symbolSize": 2100, "symbolStrokeWidth": 7, "labelOffset": 2}}
          }
        }
      ]
    },
    {
      "width": 784,
      "height": 715,
      "resolve": {"scale": {"y": "independent"}},
      "layer": [
        {
          "data": {"name": "vix"},
          "mark": {"type": "area", "interpolate": "linear"},
          "encoding": {
            "x": {"field": "date", "type": "temporal", "scale": {"domain": [{"year": 2021, "month": 5, "date": 1}, {"year": 2022, "month": 5, "date": 3}]}, "axis": {"values": [{"year": 2021, "month": 5, "date": 1}, {"year": 2021, "month": 7, "date": 1}, {"year": 2021, "month": 9, "date": 1}, {"year": 2021, "month": 11, "date": 1}, {"year": 2022, "month": 1, "date": 1}, {"year": 2022, "month": 3, "date": 1}, {"year": 2022, "month": 5, "date": 1}], "format": "%Y/%-m", "domain": true, "domainColor": "#8C8C8C", "domainWidth": 3, "labelPadding": 31, "labelFlush": false, "labelOverlap": false}},
            "y": {"field": "vix", "type": "quantitative", "scale": {"domain": [0, 40]}, "axis": {"orient": "left", "values": [0, 5, 10, 15, 20, 25, 30, 35, 40], "labelPadding": 11}},
            "fill": {"datum": "VIX指數", "type": "nominal", "scale": {"range": ["#A3A44F"]}, "legend": {"legendX": 240, "legendY": -80, "symbolType": "M-1.39,-1H1.39V1H-1.39Z", "symbolSize": 784, "symbolStrokeWidth": 0, "labelOffset": 10}}
          }
        },
        {
          "data": {"name": "spx"},
          "mark": {"type": "line", "strokeWidth": 5.5, "strokeJoin": "round", "strokeCap": "round"},
          "encoding": {
            "x": {"field": "date", "type": "temporal"},
            "y": {"field": "spx", "type": "quantitative", "scale": {"domain": [2500, 5000]}, "axis": {"orient": "right", "values": [2500, 3000, 3500, 4000, 4500, 5000], "format": "d", "labelPadding": 10}},
            "stroke": {"datum": "美國標普500指數", "type": "nominal", "scale": {"range": ["#0B5A3C"]}, "legend": {"legendX": 370, "legendY": -89, "symbolType": "stroke", "symbolSize": 2100, "symbolStrokeWidth": 7, "labelOffset": 0}}
          }
        }
      ]
    }
  ]
}
